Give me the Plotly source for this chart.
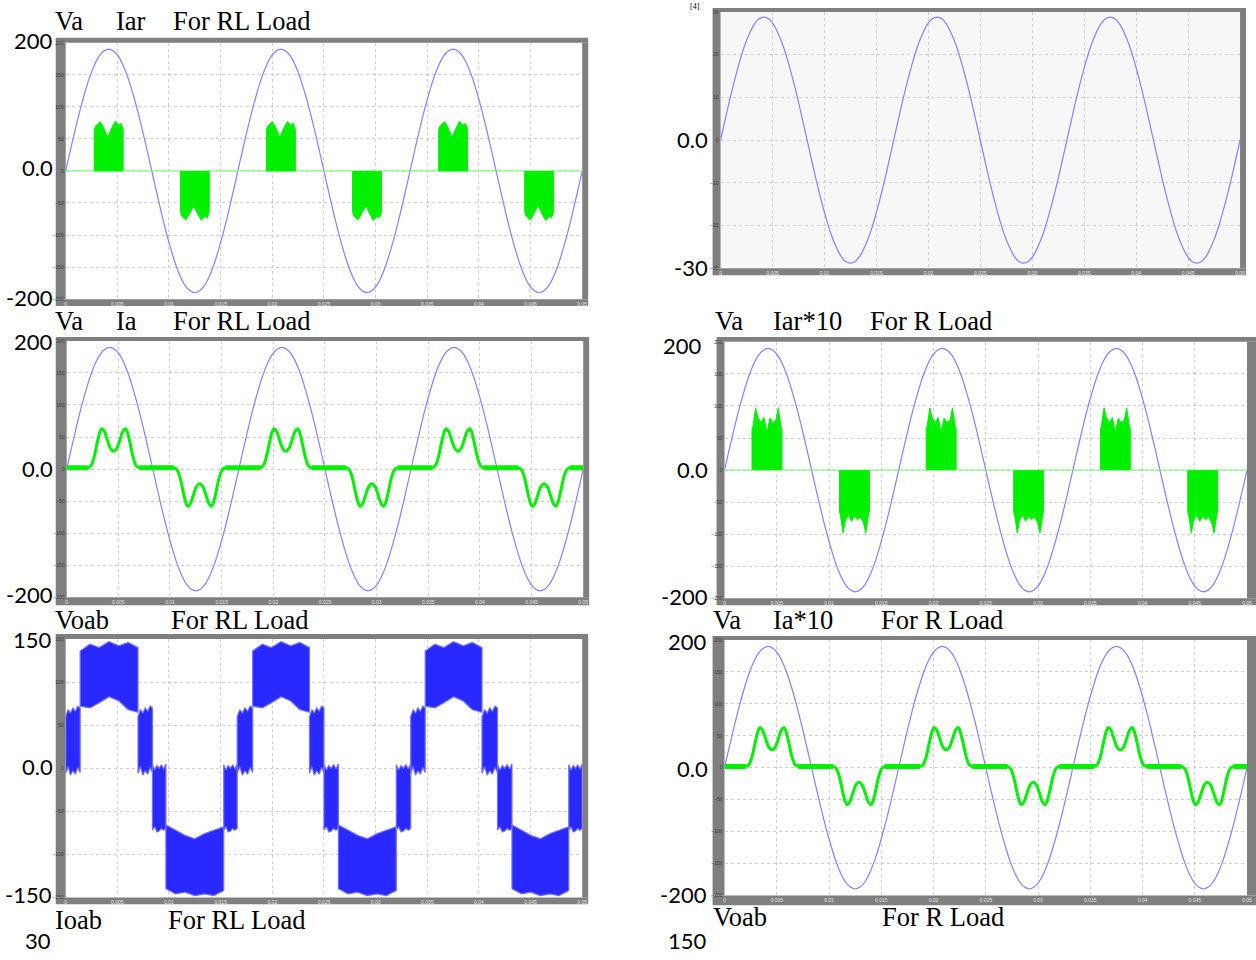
import plotly.graph_objects as go

W, H = 1256, 960

# ---------------- data ----------------
# sample times for the sinusoids (10-degree steps of a 60 Hz wave, 0 .. 0.05 s)
t_sine = [k / 2160 for k in range(109)]

va = [0, 33, 65, 95, 122, 146, 165, 179, 187, 190, 187, 179, 165, 146, 122, 95, 65, 33,
      0, -33, -65, -95, -122, -146, -165, -179, -187, -190, -187, -179, -165, -146, -122, -95, -65, -33,
      0, 33, 65, 95, 122, 146, 165, 179, 187, 190, 187, 179, 165, 146, 122, 95, 65, 33,
      0, -33, -65, -95, -122, -146, -165, -179, -187, -190, -187, -179, -165, -146, -122, -95, -65, -33,
      0, 33, 65, 95, 122, 146, 165, 179, 187, 190, 187, 179, 165, 146, 122, 95, 65, 33,
      0, -33, -65, -95, -122, -146, -165, -179, -187, -190, -187, -179, -165, -146, -122, -95, -65, -33,
      0]

ioab_rl = [0, 5.0, 9.9, 14.4, 18.5, 22.1, 24.9, 27.1, 28.4, 28.8, 28.4, 27.1, 24.9, 22.1, 18.5, 14.4, 9.9, 5.0,
           0, -5.0, -9.9, -14.4, -18.5, -22.1, -24.9, -27.1, -28.4, -28.8, -28.4, -27.1, -24.9, -22.1, -18.5, -14.4, -9.9, -5.0,
           0, 5.0, 9.9, 14.4, 18.5, 22.1, 24.9, 27.1, 28.4, 28.8, 28.4, 27.1, 24.9, 22.1, 18.5, 14.4, 9.9, 5.0,
           0, -5.0, -9.9, -14.4, -18.5, -22.1, -24.9, -27.1, -28.4, -28.8, -28.4, -27.1, -24.9, -22.1, -18.5, -14.4, -9.9, -5.0,
           0, 5.0, 9.9, 14.4, 18.5, 22.1, 24.9, 27.1, 28.4, 28.8, 28.4, 27.1, 24.9, 22.1, 18.5, 14.4, 9.9, 5.0,
           0, -5.0, -9.9, -14.4, -18.5, -22.1, -24.9, -27.1, -28.4, -28.8, -28.4, -27.1, -24.9, -22.1, -18.5, -14.4, -9.9, -5.0,
           0]

# Iar (RL load): chopped current blocks, envelope of each block
iar_rl_pos_centers = [0.00416, 0.02083, 0.03750]
iar_rl_neg_centers = [0.01250, 0.02916, 0.04583]
iar_rl_width = 0.0028
iar_rl_frac = [0, 0.04, 0.1, 0.2, 0.3, 0.47, 0.55, 0.65, 0.72, 0.85, 0.93, 1.0]
iar_rl_pos_top = [63, 70, 72, 77, 70, 52, 62, 71, 77, 72, 74, 64]
iar_rl_neg_bottom = [-63, -70, -73, -76, -68, -54, -63, -70, -77, -71, -73, -64]

# Iar*10 (R load)
iar_r_pos_centers = [0.00406, 0.02073, 0.03740]
iar_r_neg_centers = [0.01243, 0.02910, 0.04576]
iar_r_width = 0.00286
iar_r_frac = [0, 0.03, 0.12, 0.2, 0.3, 0.4, 0.5, 0.6, 0.7, 0.8, 0.88, 0.97, 1.0]
iar_r_pos_top = [64, 68, 97, 82, 74, 82, 59, 81, 74, 78, 97, 68, 64]
iar_r_neg_bottom = [-66, -70, -98, -78, -70, -80, -72, -77, -74, -82, -98, -70, -66]

# Ia (double-humped lobes), shared shape for RL and R load
ia_lobe_tau = [-0.0025, -0.0022, -0.0019, -0.0016, -0.0013, -0.00114, -0.0009, -0.0006, -0.0003, 0.0,
               0.0003, 0.0006, 0.0009, 0.00114, 0.0013, 0.0016, 0.0019, 0.0022, 0.0025]
ia_pos_lobe = [2, 5, 18, 40, 59, 63, 59, 45, 32, 28, 32, 45, 59, 63, 59, 40, 18, 5, 2]
ia_neg_lobe = [2, -1, -13, -35, -54, -58, -54, -40, -27, -23, -27, -40, -54, -58, -54, -35, -13, -1, 2]
ia_pos_centers = [0.00454, 0.02121, 0.03787]
ia_neg_centers = [0.01287, 0.02954, 0.04621]
ia_flat = 2

# Voab (RL load): multilevel PWM bands, segment edges and band envelopes
voab_edges = [0.0, 0.0014, 0.0070, 0.0084, 0.0097, 0.0153, 0.0166, 0.0181, 0.0236, 0.0250,
              0.0264, 0.0320, 0.0334, 0.0348, 0.0403, 0.0418, 0.0432, 0.0487, 0.0500]
voab_frac = [0, 0.17, 0.33, 0.5, 0.67, 0.83, 1.0]
# envelope (low edge, high edge) of each band kind, sampled at voab_frac
voab_kind_lo = {
    'P0': [-6, 2, -8, -3, -7, 1, -5],
    'P2': [72, 70, 76, 83, 78, 68, 65],
    'N0': [-72, -68, -74, -73, -70, -72, -70],
    'N2': [-140, -146, -144, -148, -146, -148, -142],
}
voab_kind_hi = {
    'P0': [60, 68, 64, 70, 66, 72, 70],
    'P2': [136, 144, 140, 147, 142, 146, 140],
    'N0': [4, -2, 3, 0, 4, -1, 5],
    'N2': [-66, -72, -78, -82, -76, -72, -68],
}
voab_kinds = ['P0', 'P2', 'P0', 'N0', 'N2', 'N0', 'P0', 'P2', 'P0', 'N0', 'N2', 'N0',
              'P0', 'P2', 'P0', 'N0', 'N2', 'N0']

# ---------------- layout geometry (pixels) ----------------
panels = {
    1: dict(inner=(65, 40, 584, 298), outer=(55, 35, 590, 305), yr=(-200, 200), dy=50, bg='white'),
    2: dict(inner=(66, 340, 585, 598), outer=(55, 336, 591, 606), yr=(-200, 200), dy=50, bg='white'),
    3: dict(inner=(65, 640, 584, 900), outer=(55, 635, 590, 907), yr=(-150, 150), dy=50, bg='white'),
    4: dict(inner=(723, 9, 1245, 267), outer=(715, 5, 1251, 274), yr=(-30, 30), dy=10, bg='#f7f7f7'),
    5: dict(inner=(727, 341, 1252, 599), outer=(719, 336, 1262, 606), yr=(-200, 200), dy=50, bg='white'),
    6: dict(inner=(727, 641, 1252, 898), outer=(715, 637, 1262, 908), yr=(-200, 200), dy=50, bg='white'),
}

VA_COLOR = '#8282ff'
GREEN = '#00f000'


def ax(i):
    return ('x' if i == 1 else f'x{i}'), ('y' if i == 1 else f'y{i}')


def blocks(centers, width, frac, env, base):
    xs, ys = [], []
    for c in centers:
        s = c - width / 2
        xs += [s]
        ys += [base]
        for f, v in zip(frac, env):
            xs.append(s + f * width)
            ys.append(v)
        xs += [s + width, s, None]
        ys += [base, base, None]
    return xs, ys


def ia_curve():
    lobes = sorted([(c, 1) for c in ia_pos_centers] + [(c, -1) for c in ia_neg_centers])
    xs, ys = [0.0], [ia_flat]
    fx, fy = [], []
    prev = 0.0
    for c, sgn in lobes:
        vals = ia_pos_lobe if sgn > 0 else ia_neg_lobe
        fx += [prev, c + ia_lobe_tau[0], None]
        fy += [ia_flat, ia_flat, None]
        for tau, v in zip(ia_lobe_tau, vals):
            xs.append(c + tau)
            ys.append(v)
        prev = c + ia_lobe_tau[-1]
    xs.append(0.05)
    ys.append(ia_flat)
    fx += [prev, 0.05]
    fy += [ia_flat, ia_flat]
    return xs, ys, fx, fy


def voab_polys():
    xs, ys = [], []
    for k, kind in enumerate(voab_kinds):
        a, b = voab_edges[k], voab_edges[k + 1]
        lo, hi = voab_kind_lo[kind], voab_kind_hi[kind]
        for f, v in zip(voab_frac, lo):
            xs.append(a + f * (b - a))
            ys.append(v)
        for f, v in zip(reversed(voab_frac), reversed(hi)):
            xs.append(a + f * (b - a))
            ys.append(v)
        xs += [a, None]
        ys += [lo[0], None]
    return xs, ys


fig = go.Figure()

# Panel 1: Va, Iar (RL)
xa, ya = ax(1)
fig.add_trace(go.Scatter(x=t_sine, y=va, mode='lines', line=dict(color=VA_COLOR, width=1.2, shape='spline'), xaxis=xa, yaxis=ya))
fig.add_trace(go.Scatter(x=[0, 0.05], y=[0, 0], mode='lines', line=dict(color='#70ff70', width=1), xaxis=xa, yaxis=ya))
bx, by = blocks(iar_rl_pos_centers, iar_rl_width, iar_rl_frac, iar_rl_pos_top, 0)
nx, ny = blocks(iar_rl_neg_centers, iar_rl_width, iar_rl_frac, iar_rl_neg_bottom, -1)
fig.add_trace(go.Scatter(x=bx + [None] + nx, y=by + [None] + ny, mode='lines', fill='toself',
                         fillcolor=GREEN, line=dict(color=GREEN, width=1), xaxis=xa, yaxis=ya))

# Panel 2: Va, Ia (RL)
xa, ya = ax(2)
ix, iy, fx, fy = ia_curve()
fig.add_trace(go.Scatter(x=t_sine, y=va, mode='lines', line=dict(color=VA_COLOR, width=1.2, shape='spline'), xaxis=xa, yaxis=ya))
fig.add_trace(go.Scatter(x=fx, y=fy, mode='lines', line=dict(color=GREEN, width=5), xaxis=xa, yaxis=ya))
fig.add_trace(go.Scatter(x=ix, y=iy, mode='lines', line=dict(color=GREEN, width=3, shape='spline'), xaxis=xa, yaxis=ya))

# Panel 3: Voab (RL)
xa, ya = ax(3)
vx, vy = voab_polys()
fig.add_trace(go.Scatter(x=vx, y=vy, mode='lines', fill='toself', fillcolor='#2828ff',
                         line=dict(color='#7070ff', width=1.2), xaxis=xa, yaxis=ya))

# Panel 4: Ioab (RL)
xa, ya = ax(4)
fig.add_trace(go.Scatter(x=t_sine, y=ioab_rl, mode='lines', line=dict(color=VA_COLOR, width=1.2, shape='spline'), xaxis=xa, yaxis=ya))

# Panel 5: Va, Iar*10 (R)
xa, ya = ax(5)
fig.add_trace(go.Scatter(x=t_sine, y=va, mode='lines', line=dict(color=VA_COLOR, width=1.2, shape='spline'), xaxis=xa, yaxis=ya))
fig.add_trace(go.Scatter(x=[0, 0.05], y=[0, 0], mode='lines', line=dict(color='#70ff70', width=1), xaxis=xa, yaxis=ya))
bx, by = blocks(iar_r_pos_centers, iar_r_width, iar_r_frac, iar_r_pos_top, 1)
nx, ny = blocks(iar_r_neg_centers, iar_r_width, iar_r_frac, iar_r_neg_bottom, -1)
fig.add_trace(go.Scatter(x=bx + [None] + nx, y=by + [None] + ny, mode='lines', fill='toself',
                         fillcolor=GREEN, line=dict(color=GREEN, width=1), xaxis=xa, yaxis=ya))

# Panel 6: Va, Ia*10 (R)
xa, ya = ax(6)
fig.add_trace(go.Scatter(x=t_sine, y=va, mode='lines', line=dict(color=VA_COLOR, width=1.2, shape='spline'), xaxis=xa, yaxis=ya))
fig.add_trace(go.Scatter(x=fx, y=fy, mode='lines', line=dict(color=GREEN, width=5), xaxis=xa, yaxis=ya))
fig.add_trace(go.Scatter(x=ix, y=iy, mode='lines', line=dict(color=GREEN, width=3, shape='spline'), xaxis=xa, yaxis=ya))

# ---------------- axes, frames ----------------
layout = {}
shapes = []
FRAME = '#7f7f7f'
for i, p in panels.items():
    x0, y0, x1, y1 = p['inner']
    ox0, oy0, ox1, oy1 = p['outer']
    xk = 'xaxis' if i == 1 else f'xaxis{i}'
    yk = 'yaxis' if i == 1 else f'yaxis{i}'
    xa, ya = ax(i)
    layout[xk] = dict(domain=[x0 / W, x1 / W], range=[0, 0.05], anchor=ya, tick0=0, dtick=0.005,
                      showgrid=True, gridcolor='#cdcdcd', griddash='dot', gridwidth=1, zeroline=False,
                      showline=False, ticks='', tickangle=0, ticklabelstandoff=1,
                      tickfont=dict(size=5, color='#e6e6e6', family='Liberation Sans'), fixedrange=True)
    layout[yk] = dict(domain=[1 - y1 / H, 1 - y0 / H], range=list(p['yr']), anchor=xa, tick0=0, dtick=p['dy'],
                      showgrid=True, gridcolor='#cdcdcd', griddash='dot', gridwidth=1, zeroline=False,
                      showline=False, ticks='', ticklabelstandoff=1,
                      tickfont=dict(size=5, color='#3a3a3a', family='Liberation Sans'), fixedrange=True)
    shapes.append(dict(type='rect', xref='paper', yref='paper', layer='below',
                       x0=x0 / W, x1=x1 / W, y0=1 - y1 / H, y1=1 - y0 / H,
                       fillcolor=p['bg'], line=dict(width=0)))
    for (a, b, c, d) in [(ox0, oy0, ox1, y0), (ox0, y1, ox1, oy1), (ox0, y0, x0, y1), (x1, y0, ox1, y1)]:
        shapes.append(dict(type='rect', xref='paper', yref='paper', layer='below',
                           x0=a / W, x1=c / W, y0=1 - d / H, y1=1 - b / H,
                           fillcolor=FRAME, line=dict(width=0)))

# ---------------- text ----------------
ann = []
SERIF = 'Liberation Serif'
SANS = 'Lato'


def txt(s, x, y, size=26.5, family=SERIF, anchor='left'):
    ann.append(dict(text=s, x=x / W, y=1 - y / H, xref='paper', yref='paper', showarrow=False,
                    xanchor=anchor, yanchor='middle', font=dict(family=family, size=size, color='black')))


for s, x in [('Va', 52), ('Iar', 114), ('For RL Load', 171)]:
    txt(s, x, 18)
for s, x in [('Va', 52), ('Ia', 114), ('For RL Load', 171)]:
    txt(s, x, 320)
for s, x in [('Voab', 52), ('For RL Load', 169)]:
    txt(s, x, 621)
for s, x in [('Ioab', 52), ('For RL Load', 166)]:
    txt(s, x, 923)
for s, x in [('Va', 715), ('Iar*10', 774), ('For R Load', 871)]:
    txt(s, x, 320)
for s, x in [('Va', 713), ('Ia*10', 774), ('For R Load', 882)]:
    txt(s, x, 621)
for s, x in [('Voab', 713), ('For R Load', 883)]:
    txt(s, x, 920)

big = [('200', 54, 38), ('0.0', 54, 166), ('-200', 54, 296),
       ('200', 54, 341), ('0.0', 54, 468), ('-200', 54, 595),
       ('150', 53, 640), ('0.0', 54, 768), ('-150', 53, 897),
       ('30', 52, 943),
       ('0.0', 712, 137), ('-30', 712, 266),
       ('200', 706, 345), ('0.0', 712, 469), ('-200', 712, 597),
       ('200', 711, 643), ('0.0', 712, 770), ('-200', 711, 897),
       ('150', 711, 943)]
for s, x, y in big:
    txt(s, x, y, size=22, family=SANS, anchor='right')

txt('[4]', 697, 4, size=8, family=SERIF, anchor='center')

fig.update_layout(
    width=W, height=H, autosize=False,
    margin=dict(l=0, r=0, t=0, b=0),
    paper_bgcolor='white', plot_bgcolor='rgba(0,0,0,0)',
    showlegend=False, hovermode=False,
    shapes=shapes, annotations=ann,
    **layout,
)

fig.write_html('out.html', config={'displayModeBar': False},
               post_script="document.body.style.margin='0';document.body.style.overflow='hidden';")
